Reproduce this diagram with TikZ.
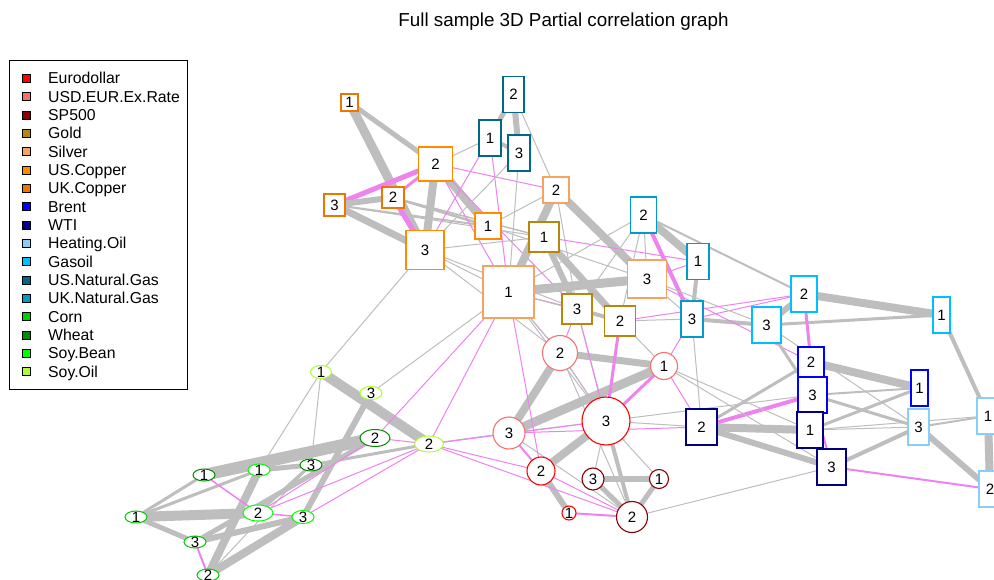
\documentclass[tikz,border=0pt]{standalone}
\usepackage{fontspec}
\setmainfont{Liberation Sans}
\usetikzlibrary{backgrounds,shapes.geometric}
\definecolor{cED}{HTML}{FF0000}
\definecolor{cUE}{HTML}{F87070}
\definecolor{cSP}{HTML}{8B0000}
\definecolor{cGO}{HTML}{B8860B}
\definecolor{cSI}{HTML}{F4A460}
\definecolor{cCU}{HTML}{FF8C00}
\definecolor{cUC}{HTML}{EE7600}
\definecolor{cBR}{HTML}{0000FF}
\definecolor{cWT}{HTML}{000080}
\definecolor{cHO}{HTML}{87CEFA}
\definecolor{cGA}{HTML}{00BFFF}
\definecolor{cUN}{HTML}{00688B}
\definecolor{cKN}{HTML}{009ACD}
\definecolor{cCO}{HTML}{00CD00}
\definecolor{cWH}{HTML}{008B00}
\definecolor{cSB}{HTML}{00FF00}
\definecolor{cSO}{HTML}{ADFF2F}
\definecolor{edgegray}{HTML}{BEBEBE}
\definecolor{edgeviolet}{HTML}{EE82EE}
\newcommand\gE[3]{\draw[edgegray,line width=#1pt] (#2.center)--(#3.center);}
\newcommand\vE[3]{\draw[edgeviolet,line width=#1pt] (#2.center)--(#3.center);}
\begin{document}
\begin{tikzpicture}[x=1pt,y=-1pt,
  lab/.style={font=\fontsize{15}{15}\selectfont},
  sq/.style={draw=#1, fill=white, line width=1.1pt, rectangle, inner sep=0pt, lab},
  ci/.style={draw=#1, fill=white, line width=1.1pt, circle, inner sep=0pt, lab},
  el/.style={draw=#1, fill=white, line width=1pt, ellipse, inner sep=0pt},
  ellab/.style={label={[lab,inner sep=0pt]center:#1}},
]
\useasboundingbox (0,0) rectangle (994,580);

% title
\node[font=\fontsize{18.8}{20}\selectfont] (title) at (563.5,22) {Full sample 3D Partial correlation graph};

% legend
\node[draw=black, line width=0.8pt, minimum width=178pt, minimum height=329pt, anchor=north west, inner sep=0pt] (legend) at (9,60) {};
\foreach \c/\t [count=\i from 0] in {cED/Eurodollar, cUE/USD.EUR.Ex.Rate, cSP/SP500, cGO/Gold, cSI/Silver, cCU/US.Copper, cUC/UK.Copper, cBR/Brent, cWT/WTI, cHO/Heating.Oil, cGA/Gasoil, cUN/US.Natural.Gas, cKN/UK.Natural.Gas, cCO/Corn, cWH/Wheat, cSB/Soy.Bean, cSO/Soy.Oil}{
  \pgfmathsetmacro\yy{78.3+18.34*\i}
  \node[fill=\c, draw=black, line width=0.5pt, minimum size=8pt, inner sep=0pt] (lk\i) at (26.7,\yy) {};
  \node[anchor=base west, font=\fontsize{15.8}{16}\selectfont, inner sep=0pt] (lt\i) at (48,\yy+5.6) {\t};
}

% circles
\node[ci=cED, minimum size=14pt] (ED1) at (569,513) {1};
\node[ci=cED, minimum size=28pt] (ED2) at (541,471) {2};
\node[ci=cED, minimum size=48pt] (ED3) at (606,421) {3};
\node[ci=cUE, minimum size=27pt] (UE1) at (664,366) {1};
\node[ci=cUE, minimum size=35pt] (UE2) at (560,353) {2};
\node[ci=cUE, minimum size=32pt] (UE3) at (509,433) {3};
\node[ci=cSP, minimum size=19pt] (SP1) at (659,479) {1};
\node[ci=cSP, minimum size=31pt] (SP2) at (632,517) {2};
\node[ci=cSP, minimum size=22pt] (SP3) at (593,479) {3};
% squares
\node[sq=cGO, minimum width=30pt, minimum height=30pt] (GO1) at (544,237) {1};
\node[sq=cGO, minimum width=31pt, minimum height=30pt] (GO2) at (620,321) {2};
\node[sq=cGO, minimum width=30pt, minimum height=30pt] (GO3) at (577,309) {3};
\node[sq=cSI, minimum width=51pt, minimum height=52pt] (SI1) at (508.5,292) {1};
\node[sq=cSI, minimum width=26pt, minimum height=26pt] (SI2) at (556,190) {2};
\node[sq=cSI, minimum width=39pt, minimum height=38pt] (SI3) at (647,279) {3};
\node[sq=cCU, minimum width=26pt, minimum height=26pt] (CU1) at (488,226) {1};
\node[sq=cCU, minimum width=34pt, minimum height=34pt] (CU2) at (435.5,164) {2};
\node[sq=cCU, minimum width=38pt, minimum height=39pt] (CU3) at (425,250) {3};
\node[sq=cUC, minimum width=17pt, minimum height=17pt] (UC1) at (349.5,102.5) {1};
\node[sq=cUC, minimum width=22pt, minimum height=21pt] (UC2) at (393,197.5) {2};
\node[sq=cUC, minimum width=21pt, minimum height=22pt] (UC3) at (334.5,205) {3};
\node[sq=cBR, minimum width=17pt, minimum height=36pt] (BR1) at (919.5,388) {1};
\node[sq=cBR, minimum width=26pt, minimum height=30pt] (BR2) at (811,362) {2};
\node[sq=cBR, minimum width=29pt, minimum height=36pt] (BR3) at (812.5,395) {3};
\node[sq=cWT, minimum width=26pt, minimum height=36pt] (WT1) at (810,430) {1};
\node[sq=cWT, minimum width=31pt, minimum height=36pt] (WT2) at (701.5,427) {2};
\node[sq=cWT, minimum width=29pt, minimum height=36pt] (WT3) at (831.5,467) {3};
\node[sq=cHO, minimum width=22pt, minimum height=36pt] (HO1) at (988,416) {1};
\node[sq=cHO, minimum width=22pt, minimum height=36pt] (HO2) at (990,489) {2};
\node[sq=cHO, minimum width=21pt, minimum height=36pt] (HO3) at (918.5,427) {3};
\node[sq=cGA, minimum width=17pt, minimum height=36pt] (GA1) at (941.5,315) {1};
\node[sq=cGA, minimum width=26pt, minimum height=36pt] (GA2) at (804,294) {2};
\node[sq=cGA, minimum width=29pt, minimum height=36pt] (GA3) at (766.5,325) {3};
\node[sq=cUN, minimum width=22pt, minimum height=36pt] (UN1) at (490,138) {1};
\node[sq=cUN, minimum width=21pt, minimum height=36pt] (UN2) at (513.5,94.5) {2};
\node[sq=cUN, minimum width=22pt, minimum height=36pt] (UN3) at (519,153) {3};
\node[sq=cKN, minimum width=22pt, minimum height=36pt] (KN1) at (698,261.5) {1};
\node[sq=cKN, minimum width=26pt, minimum height=36pt] (KN2) at (643.5,215) {2};
\node[sq=cKN, minimum width=22pt, minimum height=36pt] (KN3) at (692,319) {3};
% ellipses
\node[el=cSO, minimum width=21pt, minimum height=13pt, ellab=1] (SO1) at (321,372) {};
\node[el=cSO, minimum width=29pt, minimum height=16pt, ellab=2] (SO2) at (429,444) {};
\node[el=cSO, minimum width=22pt, minimum height=13pt, ellab=3] (SO3) at (371,393) {};
\node[el=cWH, minimum width=22pt, minimum height=12pt, ellab=1] (WH1) at (204,475) {};
\node[el=cWH, minimum width=30pt, minimum height=17pt, ellab=2] (WH2) at (375,438) {};
\node[el=cWH, minimum width=22pt, minimum height=12pt, ellab=3] (WH3) at (311,465) {};
\node[el=cSB, minimum width=22pt, minimum height=12pt, ellab=1] (SB1) at (259,470) {};
\node[el=cSB, minimum width=30pt, minimum height=16pt, ellab=2] (SB2) at (258,513) {};
\node[el=cSB, minimum width=22pt, minimum height=13pt, ellab=3] (SB3) at (303,517) {};
\node[el=cCO, minimum width=22pt, minimum height=12pt, ellab=1] (CO1) at (136,517) {};
\node[el=cCO, minimum width=22pt, minimum height=12pt, ellab=2] (CO2) at (208,575) {};
\node[el=cCO, minimum width=22pt, minimum height=12pt, ellab=3] (CO3) at (195,542) {};

\begin{pgfonlayer}{background}
\fill[white] (0,0) rectangle (994,580);
% copper / natgas
\gE{9}{UC1}{CU3}
\gE{5}{UC1}{CU2}
\vE{5}{UC3}{CU2}
\gE{6}{UC3}{UC2}
\gE{7}{UC3}{CU3}
\gE{2}{UC3}{CU1}
\gE{1}{UC3}{GO1}
\vE{3}{UC2}{CU2}
\vE{5}{UC2}{CU3}
\gE{2.5}{UC2}{CU1}
\gE{1.5}{UC2}{GO1}
\gE{8}{CU2}{CU3}
\gE{8}{CU2}{CU1}
\vE{1}{CU2}{SI2}
\vE{1}{CU2}{SI1}
\vE{1}{CU2}{GO3}
\gE{1}{CU2}{UN1}
\vE{1}{UN1}{CU3}
\vE{1}{UN1}{SI1}
\gE{5}{UN2}{UN1}
\gE{6}{UN2}{UN3}
\gE{4}{UN1}{UN3}
\gE{1}{UN2}{SI2}
\gE{1}{UN3}{SI1}
\gE{1}{UN3}{CU3}
\gE{1}{SI2}{CU1}
\gE{8}{SI2}{SI1}
\gE{8}{SI2}{SI3}
\gE{1}{SI2}{GO3}
\gE{6}{GO1}{GO3}
\gE{7}{GO1}{GO2}
\vE{1}{GO1}{KN1}
\gE{9}{SI1}{SI3}
\vE{1}{SI1}{GO3}
\gE{1}{SI1}{GO2}
\gE{4}{GO3}{GO2}
\gE{1}{CU3}{SI1}
\gE{1}{CU3}{GO1}
\gE{1}{CU3}{GO3}
\gE{1}{CU3}{UE2}
\gE{1}{CU3}{SO1}
\gE{1}{CU1}{SI3}
% silver / UK natgas
\gE{1}{SI3}{KN2}
\vE{1}{SI3}{KN1}
\gE{1}{SI3}{KN3}
\gE{8}{KN2}{KN1}
\vE{4}{KN2}{KN3}
\gE{4}{KN1}{KN3}
\gE{2}{KN2}{GA2}
\gE{1}{KN2}{SI1}
\gE{1}{KN2}{GO3}
\gE{1}{KN2}{GO2}
\vE{1}{KN3}{GA2}
\gE{4}{KN3}{GA3}
\gE{1}{SI3}{GA3}
\vE{1}{SI3}{BR2}
\vE{1}{GO2}{GA2}
\gE{1}{GO2}{KN3}
% energy
\gE{8}{GA2}{GA1}
\gE{6}{GA2}{GA3}
\gE{3}{GA3}{GA1}
\vE{3}{GA2}{BR2}
\gE{4}{GA1}{HO1}
\gE{8}{HO1}{HO2}
\gE{6}{HO3}{HO2}
\gE{2}{HO3}{HO1}
\gE{8}{BR2}{BR1}
\gE{2}{BR3}{BR1}
\gE{3}{BR3}{HO3}
\gE{3}{GA3}{BR3}
\gE{1}{GA3}{HO3}
\gE{3}{WT2}{BR2}
\vE{4}{WT2}{BR3}
\gE{8}{WT2}{WT1}
\gE{6}{WT2}{WT3}
\gE{3}{WT1}{BR1}
\gE{1}{WT1}{HO3}
\gE{1}{WT1}{HO1}
\gE{3}{WT1}{WT3}
\vE{2}{BR3}{WT3}
\gE{4}{WT3}{HO3}
\vE{2}{WT3}{HO2}
\gE{1}{WT3}{SP2}
\gE{1}{KN3}{WT2}
% centre
\vE{1}{UE1}{WT2}
\vE{1}{UE1}{KN3}
\gE{1}{UE1}{WT1}
\gE{1}{UE1}{WT3}
\gE{7}{UE2}{UE1}
\gE{8}{UE2}{UE3}
\gE{9}{UE1}{UE3}
\vE{3}{UE1}{ED3}
\vE{1}{UE2}{ED3}
\gE{1}{UE2}{ED3}
\gE{1}{UE3}{ED3}
\vE{1}{UE3}{WT2}
\gE{1}{ED3}{WT2}
\gE{8}{ED3}{ED2}
\gE{4}{ED3}{SP2}
\gE{1}{ED3}{SP3}
\gE{1}{ED3}{SP1}
\gE{1}{ED3}{BR3}
\gE{6}{ED2}{ED1}
\vE{1}{ED2}{SP2}
\vE{2}{ED2}{UE3}
\vE{2}{ED1}{SP2}
\gE{6}{SP3}{SP1}
\gE{5}{SP3}{SP2}
\gE{5}{SP1}{SP2}
\gE{1}{SP2}{UE3}
\gE{1}{SP2}{UE2}
\gE{1}{SP2}{GO3}
\vE{3}{GO2}{ED3}
\vE{1}{GO3}{ED3}
\vE{1}{GO3}{UE2}
\vE{1}{SI1}{UE2}
\gE{1}{SI1}{UE2}
\gE{1}{SI1}{ED3}
\vE{1}{SI1}{ED2}
\gE{1}{GO2}{UE1}
% grains
\gE{12}{WH1}{WH2}
\gE{10}{CO1}{SB2}
\gE{8}{CO2}{SB1}
\gE{8}{CO2}{SB3}
\gE{6}{CO3}{SB3}
\gE{6}{SO3}{SB3}
\gE{5}{CO3}{WH2}
\gE{5}{SB1}{WH3}
\gE{3}{CO1}{WH1}
\gE{3}{CO1}{SB1}
\gE{5}{CO1}{CO3}
\gE{3}{WH3}{SB2}
\gE{3}{WH3}{SO2}
\gE{10}{SO1}{SO2}
\gE{1}{SO1}{WH3}
\gE{1}{SO1}{SB1}
\gE{1}{SO3}{SI1}
\gE{1}{CO2}{WH3}
\vE{2}{CO3}{CO2}
\vE{1.5}{WH1}{SB2}
\vE{1.5}{SB2}{SB3}
\vE{1}{SB2}{SO2}
\vE{1}{SB2}{WH2}
\vE{1}{SB3}{SO2}
\vE{1}{WH2}{SO2}
\vE{1}{SI1}{WH2}
\vE{1}{SI1}{SO2}
\vE{1}{SO2}{UE3}
\gE{1}{SO2}{UE3}
\vE{1}{SO2}{ED2}
\vE{1}{SO2}{SP2}
\vE{1}{SO2}{ED3}
\end{pgfonlayer}
\end{tikzpicture}
\end{document}
